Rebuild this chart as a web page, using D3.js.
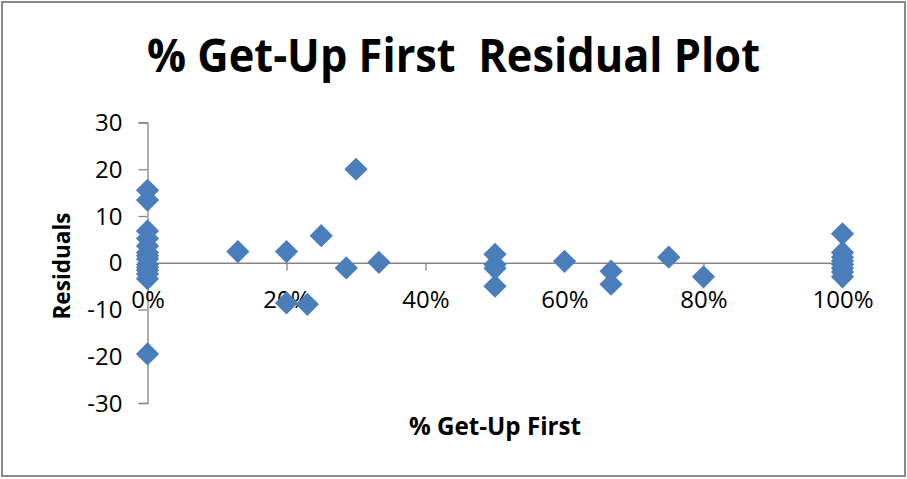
<!DOCTYPE html>
<html>
<head>
<meta charset="utf-8">
<script src="https://cdn.jsdelivr.net/npm/d3@7"></script>
<style>
  html, body { margin: 0; padding: 0; background: #fff; }
  svg { display: block; }
  .keep-spaces { white-space: pre; }
</style>
</head>
<body>
<svg id="chart" width="907" height="479"></svg>
<script>
// Share of get-up-first observations (x) and the residuals of the fit (y)
const pctGetUpFirst = [
  0, 0, 0, 0, 0, 0, 0, 0, 0, 0, 0, 0, 0, 0,
  0.13, 0.20, 0.20, 0.23, 0.25, 0.286, 0.30, 0.333,
  0.50, 0.50, 0.50, 0.50, 0.60, 0.667, 0.667, 0.75, 0.80,
  1, 1, 1, 1, 1, 1, 1, 1
];
const residuals = [
  15.5, 13.4, 6.8, 5.2, 3.6, 2.2, 0.8, -0.4, -1.6, -2.4, -3.4, -19.5, 1.5, -1.0,
  2.4, 2.4, -8.6, -8.9, 5.8, -1.1, 20.0, 0.1,
  1.8, -0.4, -1.2, -5.0, 0.3, -1.8, -4.6, 1.2, -3.0,
  6.2, 2.2, 1.2, 0.4, -0.4, -1.2, -2.0, -3.0
];
const xTicks = [0, 0.2, 0.4, 0.6, 0.8, 1.0];
const yTicks = [-30, -20, -10, 0, 10, 20, 30];

const chartTitle = "% Get-Up First  Residual Plot";
const xTitle = "% Get-Up First";
const yTitle = "Residuals";

const svg = d3.select("#chart");
const W = 907, H = 479;
const font = "'Open Sans', 'Noto Sans', sans-serif";
const axisColor = "#868686";
const markColor = "#4a7ebb";

// outer chart-area frame
svg.append("rect")
  .attr("x", 2).attr("y", 2)
  .attr("width", W - 4).attr("height", H - 5)
  .attr("fill", "#fff")
  .attr("stroke", "#8a8a8a")
  .attr("stroke-width", 2);

const x = d3.scaleLinear().domain([0, 1]).range([147.5, 842.5]);
const y = d3.scaleLinear().domain([-30, 30]).range([403, 122.5]);

// title (double space kept between the two parts)
svg.append("text")
  .attr("class", "keep-spaces")
  .attr("x", 453.5).attr("y", 72)
  .attr("text-anchor", "middle")
  .attr("font-family", font)
  .attr("font-weight", 700)
  .attr("font-size", 46)
  .attr("textLength", 613)
  .attr("lengthAdjust", "spacingAndGlyphs")
  .attr("fill", "#000")
  .text(chartTitle);

// y axis: line at x = 0, ticks pointing left
const yAxis = d3.axisLeft(y)
  .tickValues(yTicks)
  .tickSize(9)
  .tickSizeOuter(9)
  .tickPadding(16)
  .tickFormat(d => String(d));
const gy = svg.append("g")
  .attr("transform", `translate(${x(0)},0)`)
  .call(yAxis);
gy.select(".domain").attr("stroke", axisColor).attr("stroke-width", 1.3);
gy.selectAll(".tick line").attr("stroke", axisColor).attr("stroke-width", 1.3);
gy.selectAll(".tick text")
  .attr("font-family", font)
  .attr("font-size", 24)
  .attr("fill", "#000")
  .attr("dy", "0.34em");

// x axis: line at y = 0, ticks pointing down, labels below
const xAxis = d3.axisBottom(x)
  .tickValues(xTicks)
  .tickSize(8)
  .tickSizeOuter(0)
  .tickPadding(20)
  .tickFormat(d3.format(".0%"));
const gx = svg.append("g")
  .attr("transform", `translate(0,${y(0)})`)
  .call(xAxis);
gx.select(".domain").attr("stroke", axisColor).attr("stroke-width", 1.3);
gx.selectAll(".tick line").attr("stroke", axisColor).attr("stroke-width", 1.3);
gx.selectAll(".tick text")
  .attr("font-family", font)
  .attr("font-size", 24)
  .attr("fill", "#000");

// axis titles
svg.append("text")
  .attr("x", 495).attr("y", 435)
  .attr("text-anchor", "middle")
  .attr("font-family", font)
  .attr("font-weight", 700)
  .attr("font-size", 25)
  .attr("textLength", 172)
  .attr("lengthAdjust", "spacingAndGlyphs")
  .text(xTitle);

svg.append("text")
  .attr("transform", "translate(70,266) rotate(-90)")
  .attr("text-anchor", "middle")
  .attr("font-family", font)
  .attr("font-weight", 700)
  .attr("font-size", 24)
  .attr("textLength", 107)
  .attr("lengthAdjust", "spacingAndGlyphs")
  .text(yTitle);

// diamond markers
const points = pctGetUpFirst.map((p, i) => ({ p, r: residuals[i] }));
const diamond = d3.symbol().type(d3.symbolSquare).size(270);
svg.append("g")
  .selectAll("path")
  .data(points)
  .join("path")
  .attr("d", diamond)
  .attr("transform", d => `translate(${x(d.p)},${y(d.r)}) rotate(45)`)
  .attr("fill", markColor);
</script>
</body>
</html>
